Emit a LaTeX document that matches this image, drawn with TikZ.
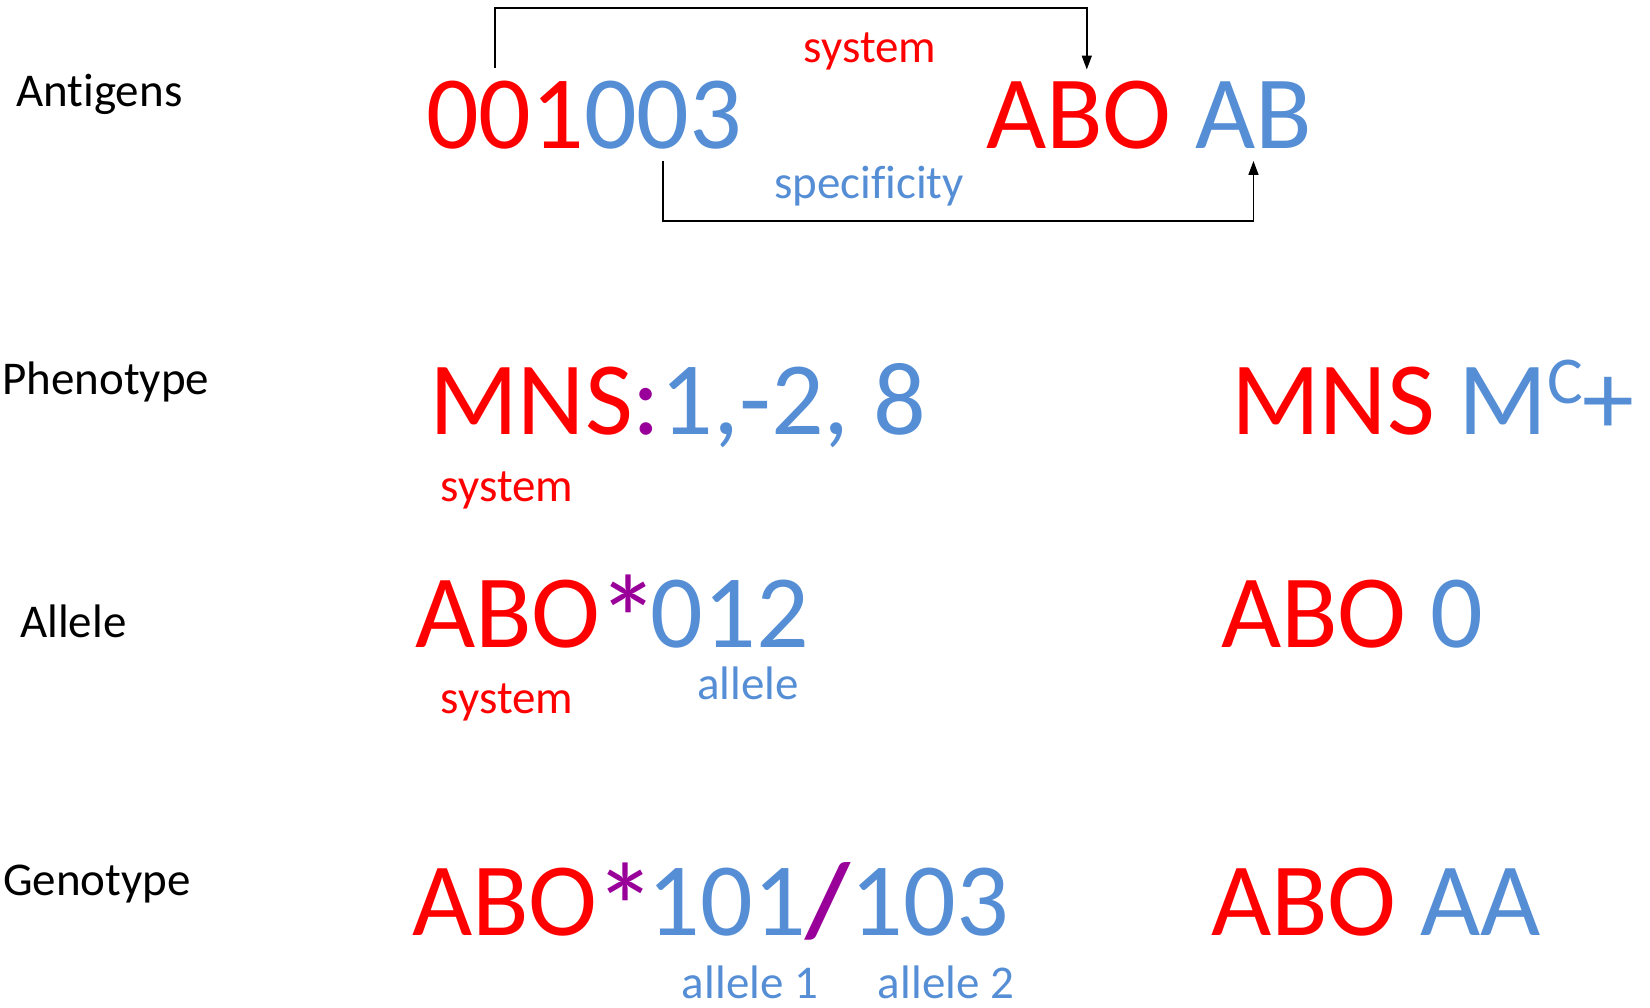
\documentclass[tikz,border=0pt]{standalone}
\usepackage{fontspec}
\setmainfont{Carlito}[Ligatures={NoCommon}]
\usetikzlibrary{positioning,arrows.meta}
\definecolor{sysred}{HTML}{FF0000}
\definecolor{specblue}{HTML}{558ED5}
\definecolor{seppurple}{HTML}{990099}
\newcommand\bigstar{\kern-3pt\raisebox{-16pt}[0pt][0pt]{\scalebox{1.2}{*}}\kern-9pt}
\tikzset{
  rowlabel/.style={anchor=base west, inner sep=0pt, font=\fontsize{47}{56}\selectfont},
  code/.style={inner sep=0pt, outer sep=0pt, font=\fontsize{104}{120}\selectfont},
  sys/.style={code, text=sysred},
  spec/.style={code, text=specblue},
  sepmark/.style={code, text=seppurple},
  note/.style={anchor=base, inner sep=0pt, font=\fontsize{47}{56}\selectfont},
  arrow/.style={-{Triangle[length=14pt,width=10pt]}, line width=1.6pt}
}
\begin{document}
\begin{tikzpicture}[x=1pt, y=-1pt]
  \useasboundingbox (0,0) rectangle (1650,1008);
  % row labels
  \node[rowlabel] (antigens) at (16,107) {Antigens};
  \node[rowlabel] (phenotype) at (2,395) {Phenotype};
  \node[rowlabel] (allele) at (20,637) {Allele};
  \node[rowlabel] (genotype) at (3,895) {Genotype};
  % antigens
  \node[sys, anchor=base west] (sysA) at (426,149) {001};
  \node[spec, base right=0pt of sysA] (specA) {003};
  \node[sys, anchor=base west] (sysB) at (986,149) {ABO};
  \node[spec, base right=23.5pt of sysB] (specB) {AB};
  \node[note, text=sysred] (sysnote) at (870,63) {system};
  \node[note, text=specblue] (specnote) at (869,199) {specificity};
  \draw[arrow] ([xshift=-10pt,yshift=14pt]sysA.north) -- ++(0,-59.5) -| ([xshift=8pt,yshift=12pt]sysB.north);
  \draw[arrow] ([yshift=-11pt]specA.south) -- ++(0,60) -| ([yshift=-12pt]specB.south);
  % phenotype
  \node[sys, anchor=base west] (sysP) at (429,435) {MNS};
  \node[sepmark, base right=0pt of sysP] (colonP) {:};
  \node[spec, base right=0pt of colonP] (specP) {1,-2, 8};
  \node[note, text=sysred] (sysPnote) at (507,501) {system};
  \node[sys, anchor=base west] (sysPb) at (1231,435) {MNS};
  \node[spec, base right=23.5pt of sysPb] (specPb) {M\raisebox{32pt}{\fontsize{67}{67}\selectfont C}+};
  % allele
  \node[sys, anchor=base west] (sysAl) at (415,647) {ABO};
  \node[sepmark, base right=0pt of sysAl] (starAl) {\bigstar};
  \node[spec, base right=0pt of starAl] (specAl) {012};
  \node[note, text=sysred] (sysAlnote) at (507,713) {system};
  \node[note, text=specblue] (specAlnote) at (748,699) {allele};
  \node[sys, anchor=base west] (sysAlb) at (1221,647) {ABO};
  \node[spec, base right=23.5pt of sysAlb] (specAlb) {0};
  % genotype
  \node[sys, anchor=base west] (sysG) at (412,935) {ABO};
  \node[sepmark, base right=0pt of sysG] (starG) {\bigstar};
  \node[spec, base right=0pt of starG] (specGa) {101};
  \node[sepmark, base right=0pt of specGa] (slashG) {\bfseries /};
  \node[spec, base right=0pt of slashG] (specGb) {103};
  \node[note, text=specblue] (alleleone) at (750,998) {allele 1};
  \node[note, text=specblue] (alleletwo) at (946,998) {allele 2};
  \node[sys, anchor=base west] (sysGb) at (1211,935) {ABO};
  \node[spec, base right=23.5pt of sysGb] (specGb2) {AA};
\end{tikzpicture}
\end{document}
